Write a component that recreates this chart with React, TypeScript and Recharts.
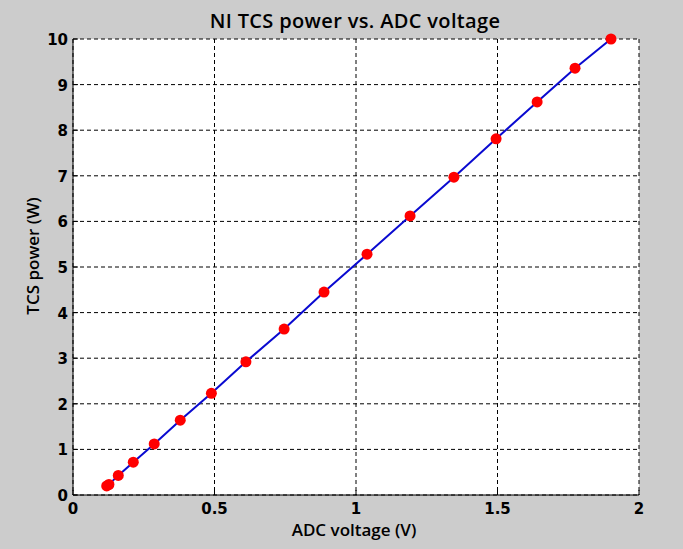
import { LineChart, Line, XAxis, YAxis, CartesianGrid } from "recharts";

const adcVoltage = [0.119, 0.127, 0.16, 0.213, 0.287, 0.379, 0.489, 0.611, 0.746, 0.887, 1.039, 1.191, 1.346, 1.495, 1.64, 1.774, 1.901];
const tcsPower = [0.2, 0.23, 0.43, 0.72, 1.12, 1.64, 2.23, 2.92, 3.64, 4.45, 5.28, 6.12, 6.97, 7.81, 8.62, 9.36, 10.0];
const xTicks = [0, 0.5, 1, 1.5, 2];
const yTicks = [0, 1, 2, 3, 4, 5, 6, 7, 8, 9, 10];

const data = adcVoltage.map((v, i) => ({ v, p: tcsPower[i] }));

const TICK_FONT = { fontFamily: "'DejaVu Sans', sans-serif", fontWeight: 700, fontSize: 15, fill: "#000" };
const LABEL_FONT = { fontFamily: "'Open Sans', sans-serif", fontWeight: 600, fontSize: 17, fill: "#000" };

function XTick({ x, y, payload }: any) {
  return (
    <g>
      <line x1={x} y1={y} x2={x} y2={y - 5} stroke="#000" />
      <text x={x} y={y + 19} textAnchor="middle" {...TICK_FONT}>
        {payload.value}
      </text>
    </g>
  );
}

function YTick({ x, y, payload }: any) {
  return (
    <g>
      <line x1={x} y1={y} x2={x + 5} y2={y} stroke="#000" />
      <text x={x - 5} y={y + 6} textAnchor="end" {...TICK_FONT}>
        {payload.value}
      </text>
    </g>
  );
}

export default function App() {
  return (
    <div style={{ position: "absolute", left: 0, top: 0, width: 683, height: 549, background: "#cccccc" }}>
      <div
        style={{
          position: "absolute",
          left: 0,
          top: 11,
          width: 710,
          textAlign: "center",
          fontFamily: "'Open Sans', sans-serif",
          fontWeight: 600,
          fontSize: 20,
          letterSpacing: 0.35,
          lineHeight: "20px",
          color: "#000",
        }}
      >
        NI TCS power vs. ADC voltage
      </div>
      <LineChart width={683} height={549} data={data} margin={{ top: 39, right: 44, bottom: 14, left: 33 }}>
        <CartesianGrid fill="#fff" stroke="#000" strokeDasharray="4 3" />
        <XAxis
          dataKey="v"
          type="number"
          domain={[0, 2]}
          ticks={xTicks}
          height={40}
          tickSize={0}
          tickMargin={0}
          tickLine={false}
          axisLine={{ stroke: "#000" }}
          tick={<XTick />}
          label={({ viewBox }: any) => (
            <text x={viewBox.x + viewBox.width / 2 - 2} y={viewBox.y + 41} textAnchor="middle" {...LABEL_FONT}>
              ADC voltage (V)
            </text>
          )}
        />
        <XAxis xAxisId="top" orientation="top" type="number" domain={[0, 2]} ticks={xTicks} height={0} tick={false} tickLine={false} axisLine={{ stroke: "#000" }} />
        <YAxis
          type="number"
          domain={[0, 10]}
          ticks={yTicks}
          width={40}
          tickSize={0}
          tickMargin={0}
          tickLine={false}
          axisLine={{ stroke: "#000" }}
          tick={<YTick />}
          label={({ viewBox }: any) => {
            const cx = viewBox.x + 6;
            const cy = viewBox.y + viewBox.height / 2 - 11;
            return (
              <text x={cx} y={cy} textAnchor="middle" transform={`rotate(-90, ${cx}, ${cy})`} {...LABEL_FONT}>
                TCS power (W)
              </text>
            );
          }}
        />
        <YAxis yAxisId="right" orientation="right" type="number" domain={[0, 10]} ticks={yTicks} width={0} tick={false} tickLine={false} axisLine={{ stroke: "#000" }} />
        <Line
          dataKey="p"
          type="linear"
          stroke="#0a0ad0"
          strokeWidth={2}
          dot={{ r: 5.5, fill: "#ff0000", stroke: "#ff0000", strokeWidth: 0 }}
          activeDot={false}
          isAnimationActive={false}
        />
      </LineChart>
    </div>
  );
}
